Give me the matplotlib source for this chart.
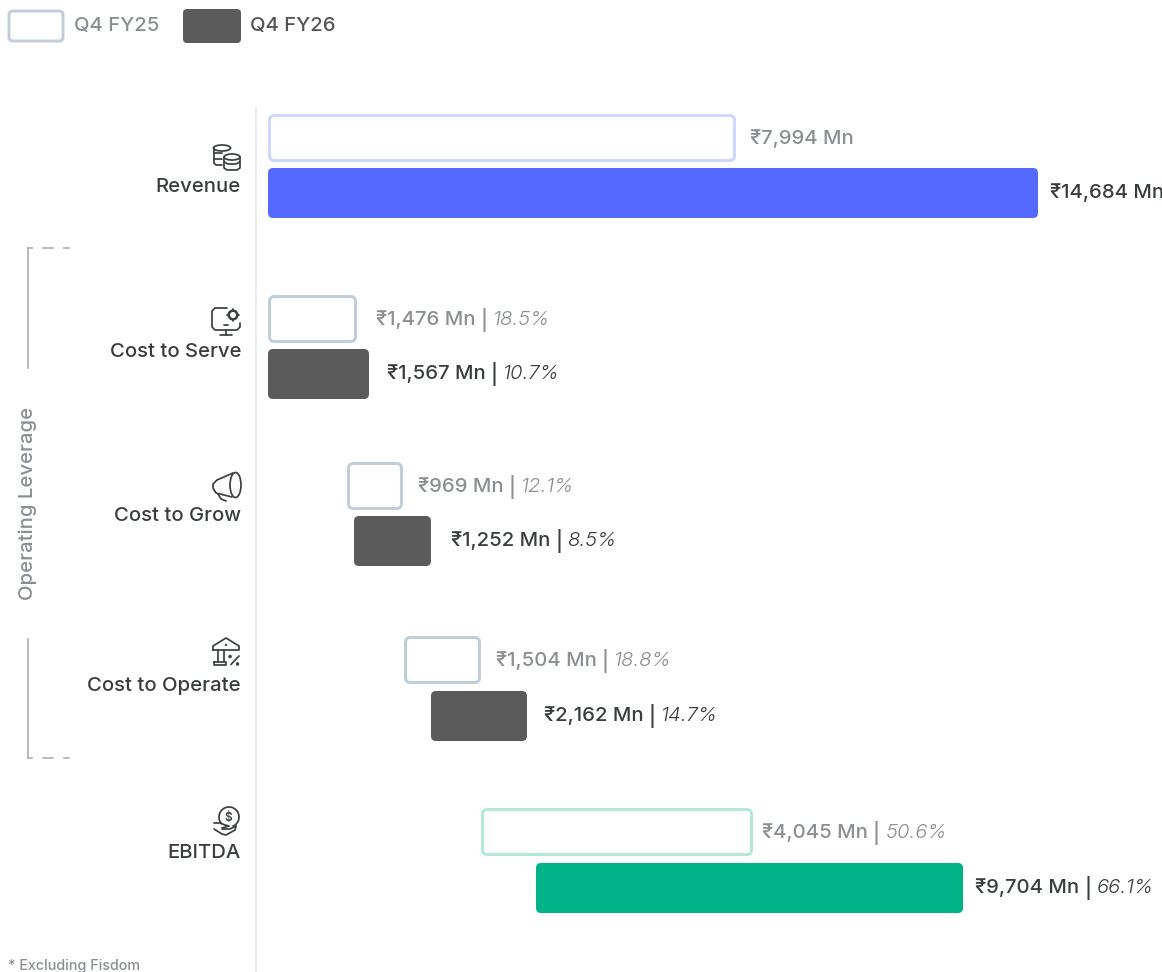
import matplotlib
matplotlib.use("Agg")
import matplotlib.pyplot as plt
from matplotlib.patches import FancyBboxPatch, Ellipse, Circle, Arc

plt.rcParams['font.family'] = ['Inter', 'DejaVu Sans']

categories = ['Revenue', 'Cost to Serve', 'Cost to Grow', 'Cost to Operate', 'EBITDA']

# printed values
fy25_values = ['₹7,994 Mn', '₹1,476 Mn', '₹969 Mn', '₹1,504 Mn', '₹4,045 Mn']
fy26_values = ['₹14,684 Mn', '₹1,567 Mn', '₹1,252 Mn', '₹2,162 Mn', '₹9,704 Mn']
fy25_pct = ['', '18.5%', '12.1%', '18.8%', '50.6%']
fy26_pct = ['', '10.7%', '8.5%', '14.7%', '66.1%']

# the bars are not to scale with the printed values, so these are read off the bars (Mn)
fy25_left = [0, 0, 1506, 2594, 4062]
fy25_width = [8925, 1697, 1068, 1468, 5187]
fy26_left = [0, 0, 1640, 3108, 5111]
fy26_width = [14684, 1926, 1468, 1831, 8143]

W, H = 1162, 972
PX_PER_MN = 770 / 14684   # px per Mn
X0 = 268                  # px position of zero

DARK = '#3a3d3e'
GREY = '#8b8f92'
ICON = '#3d4040'

fig = plt.figure(figsize=(W / 100, H / 100), dpi=100)

# page axes in pixels for everything that is not a bar
page = fig.add_axes([0, 0, 1, 1])
page.set_xlim(0, W)
page.set_ylim(H, 0)
page.axis('off')

# bar axes, x in Mn, y in px
ax = fig.add_axes([0, 0, 1, 1], facecolor='none')
ax.set_xlim(-X0 / PX_PER_MN, (W - X0) / PX_PER_MN)
ax.set_ylim(H, 0)
ax.axis('off')

# vertical positions of the rows (top of FY25 bar, top of FY26 bar, px)
fy25_top = [114, 295, 462, 636, 808]
fy26_top = [168, 349, 516, 691, 863]
BAR_H = 49

fy25_edge = ['#cfd6ff', '#c2cdd9', '#c2cdd9', '#c2cdd9', '#b3e8da']
fy26_fill = ['#5469ff', '#5b5b5b', '#5b5b5b', '#5b5b5b', '#00b388']


def rounded(left, top, width, height, face, edge, lw):
    # left/width in Mn, top/height in px
    r = 5 / PX_PER_MN
    inset = lw / 2 / PX_PER_MN
    ins_px = lw / 2
    p = FancyBboxPatch((left + inset, top + ins_px), width - 2 * inset, height - lw,
                       boxstyle=f'round,pad=0,rounding_size={r}',
                       mutation_aspect=PX_PER_MN,
                       fc=face, ec=edge, lw=lw * 0.72)
    ax.add_patch(p)


for i in range(5):
    rounded(fy25_left[i], fy25_top[i], fy25_width[i], BAR_H - 1, 'white', fy25_edge[i], 3)
    rounded(fy26_left[i], fy26_top[i], fy26_width[i], BAR_H + 1, fy26_fill[i], fy26_fill[i], 0)

# value labels
fy25_label_x = [750, 376, 418, 496, 762]
fy26_label_x = [1050, 387, 451, 544, 975]
FS = 14.6


def value_label(x, y, val, pct, col):
    t = page.text(x, y, val, fontsize=FS, color=col, va='center', ha='left', fontweight=500)
    if pct:
        fig.canvas.draw()
        bb = t.get_window_extent()
        x2 = bb.x1
        t2 = page.text(x2 + 5, y, '|', fontsize=FS, color=col, va='center', ha='left', fontweight=500)
        bb2 = t2.get_window_extent()
        page.text(bb2.x1 + 5, y, pct, fontsize=FS, color=col, va='center', ha='left',
                  fontstyle='italic', fontweight=300)


for i in range(5):
    value_label(fy25_label_x[i], fy25_top[i] + 25, fy25_values[i], fy25_pct[i], GREY)
    value_label(fy26_label_x[i], fy26_top[i] + 25, fy26_values[i], fy26_pct[i], DARK)

# category labels
cat_y = [187, 352, 516, 686, 853]
for c, y in zip(categories, cat_y):
    page.text(241, y, c, fontsize=FS, color=DARK, va='center', ha='right', fontweight=500)

# axis line
page.plot([255.5, 255.5], [108, H], color='#e7e8ea', lw=1.1)

# legend
page.add_patch(FancyBboxPatch((9, 11), 54, 30, boxstyle='round,pad=0,rounding_size=4',
                              fc='white', ec='#c2cdd9', lw=2.1))
page.add_patch(FancyBboxPatch((183, 9), 58, 34, boxstyle='round,pad=0,rounding_size=4',
                              fc='#5b5b5b', ec='none'))
page.text(74, 26, 'Q4 FY25', fontsize=FS, color=GREY, va='center', fontweight=500)
page.text(250, 26, 'Q4 FY26', fontsize=FS, color='#555555', va='center', fontweight=500)

# operating leverage bracket
BR = '#a6a8aa'
page.plot([28, 28], [248, 368], color=BR, lw=1.1)
page.plot([28, 28], [639, 758], color=BR, lw=1.1)
for y in (248.5, 757.5):
    page.plot([28, 32], [y, y], color=BR, lw=1.1)
    page.plot([43, 53], [y, y], color=BR, lw=1.1)
    page.plot([64, 69], [y, y], color=BR, lw=1.1)
page.text(28, 503, 'Operating Leverage', rotation=90, fontsize=FS, color=GREY,
          va='center', ha='center', fontweight=500)

# footnote
page.text(8, 966, '* Excluding Fisdom', fontsize=10.3, color=GREY, va='center', fontweight=500)

# icons
LW = 1.25


def line(xs, ys):
    page.plot(xs, ys, color=ICON, lw=LW, solid_capstyle='round', solid_joinstyle='round')


def ell(x, y, w, h, face='none'):
    page.add_patch(Ellipse((x, y), w, h, fc=face, ec=ICON, lw=LW, zorder=3))


# coins
ell(222, 148, 17, 6)
line([214, 214, 216, 222], [148, 163, 165, 165])
line([214, 222], [153, 153])
line([214, 222], [159, 159])
ell(232, 157, 16, 6, 'white')
line([224, 224, 227, 237, 240, 240], [157, 168, 170, 170, 168, 157])
line([224, 228, 236, 240], [162, 164, 164, 162])

# monitor with gear
line([227, 215, 212, 212, 215, 237, 240, 240], [308, 308, 311, 327, 330, 330, 327, 323])
line([226, 226], [330, 335])
line([220, 232], [335.5, 335.5])
line([224, 228], [325.5, 325.5])
page.add_patch(Circle((233, 315), 4.3, fc='white', ec=ICON, lw=1.8, zorder=3))
for dx, dy in [(-6, 0), (6, 0), (0, -6), (0, 6)]:
    line([233 + dx * 0.75, 233 + dx], [315 + dy * 0.75, 315 + dy])

# megaphone
ell(235.5, 485, 11, 25)
line([233, 217, 213, 213, 216, 232], [473, 480, 484, 488, 493, 497])
line([218, 221, 226], [494, 499, 501])

# bank with percent
line([213, 213, 226, 239, 239, 213], [650, 646, 638, 646, 650, 650])
page.add_patch(Circle((226, 645), 0.9, fc=ICON, ec=ICON, lw=0.5))
line([218, 218], [650, 661])
line([224, 224], [650, 661])
line([214, 226, 226, 214, 214], [661.5, 661.5, 665, 665, 661.5])
line([231, 239], [664.5, 656])
page.add_patch(Circle((230, 656.5), 1.4, fc=ICON, ec=ICON, lw=0.5))
page.add_patch(Circle((237.5, 664), 1.4, fc=ICON, ec=ICON, lw=0.5))

# hand holding a coin
page.add_patch(Arc((229, 817), 20, 20, theta1=-225, theta2=70, ec=ICON, lw=LW))
page.text(228.5, 817.5, '$', fontsize=8.5, color=ICON, ha='center', va='center', fontweight=600)
line([214, 220, 225, 229, 222], [823, 823, 825, 826, 828])
line([222, 230, 236], [829, 829, 826])
line([214, 222, 226, 235, 236], [829, 834, 835, 830, 826])

fig.savefig('out.png', dpi=100, facecolor='white')
